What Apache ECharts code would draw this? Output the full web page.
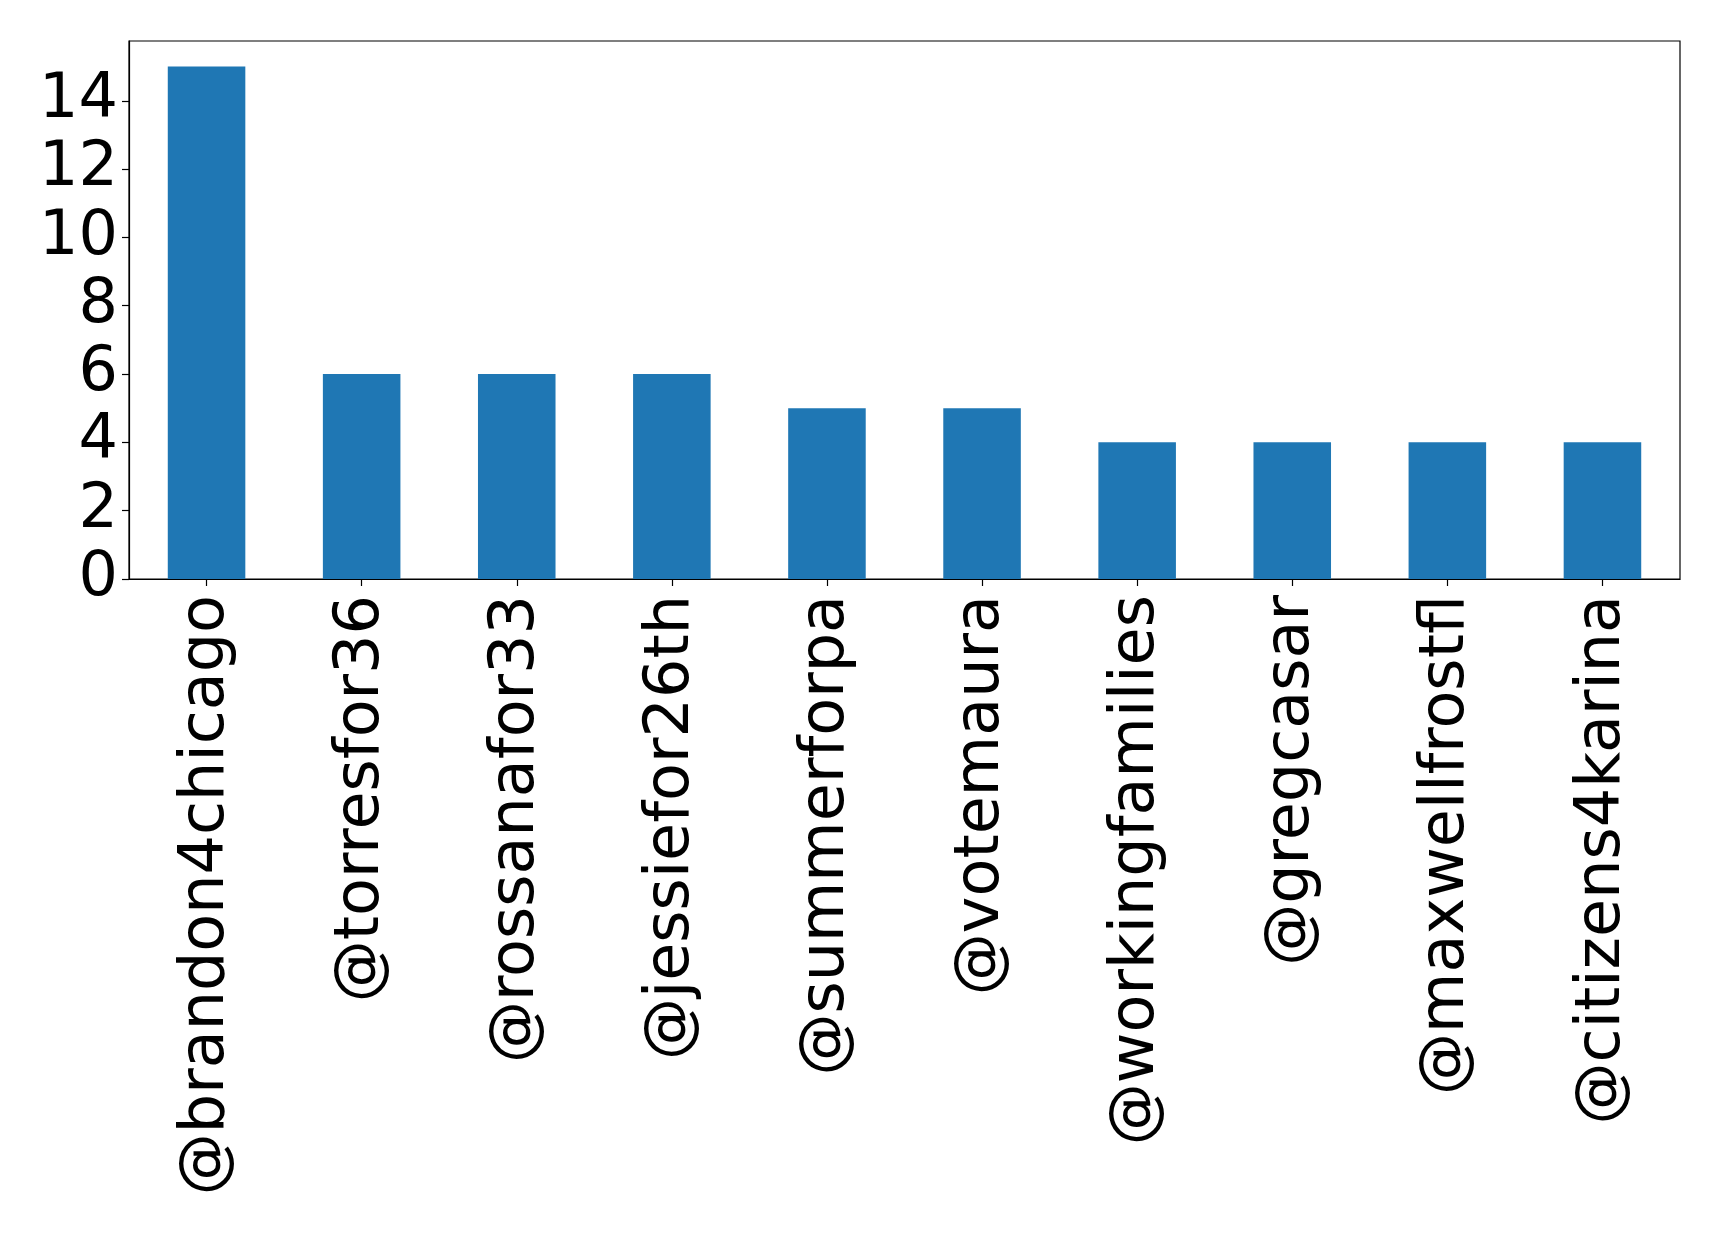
<!DOCTYPE html>
<html>
<head>
<meta charset="utf-8">
<script src="https://cdn.jsdelivr.net/npm/echarts@6/dist/echarts.min.js"></script>
<style>
html,body{margin:0;padding:0;background:#fff;}
#c{width:1719px;height:1233px;}
</style>
</head>
<body>
<div id="c"></div>
<script>
const categories = ['@brandon4chicago','@torresfor36','@rossanafor33','@jessiefor26th','@summerforpa','@votemaura','@workingfamilies','@gregcasar','@maxwellfrostfl','@citizens4karina'];
const values = [15, 6, 6, 6, 5, 5, 4, 4, 4, 4];
const yTicks = [0, 2, 4, 6, 8, 10, 12, 14];

const chart = echarts.init(document.getElementById('c'), null, {renderer: 'canvas'});
chart.setOption({
  animation: false,
  backgroundColor: '#ffffff',
  textStyle: {fontFamily: 'DejaVu Sans'},
  grid: {left: 129, right: 39, top: 41, bottom: 654, show: true, borderColor: '#000', borderWidth: 1.2, backgroundColor: 'transparent'},
  xAxis: {
    type: 'category',
    data: categories,
    boundaryGap: true,
    axisLine: {show: true, lineStyle: {color: '#000', width: 1.2}},
    axisTick: {show: true, alignWithLabel: true, length: 7, lineStyle: {color: '#000', width: 1.2}},
    axisLabel: {rotate: 90, margin: 16, fontSize: 62, color: '#000', fontFamily: 'DejaVu Sans', interval: 0}
  },
  yAxis: {
    type: 'value',
    min: 0,
    max: 15.75,
    interval: 2,
    splitLine: {show: false},
    axisLine: {show: true, lineStyle: {color: '#000', width: 1.2}},
    axisTick: {show: true, length: 7, lineStyle: {color: '#000', width: 1.2}},
    axisLabel: {
      fontSize: 62, color: '#000', fontFamily: 'DejaVu Sans', margin: 11,
      showMaxLabel: false,
      formatter: function (v) { return yTicks.indexOf(v) >= 0 ? String(v) : ''; }
    }
  },
  series: [{
    type: 'bar',
    data: values,
    barWidth: '50%',
    itemStyle: {color: '#1f77b4'}
  }]
});
</script>
</body>
</html>
